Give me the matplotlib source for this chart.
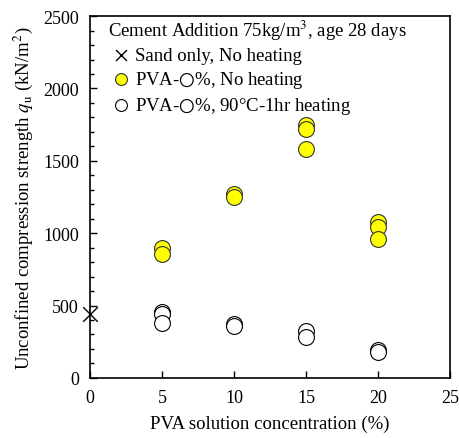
import matplotlib.pyplot as plt
import matplotlib as mpl

mpl.rcParams['font.family'] = ['Liberation Serif', 'DejaVu Sans']
mpl.rcParams['mathtext.fontset'] = 'stix'
mpl.rcParams['font.size'] = 13.5

# sand only
sand_x = [0]
sand_y = [440]

# PVA, no heating
noheat_x = [5, 5, 10, 10, 15, 15, 15, 20, 20, 20]
noheat_y = [900, 855, 1270, 1250, 1750, 1720, 1580, 1075, 1040, 960]

# PVA, 90C-1hr heating
heat_x = [5, 5, 5, 10, 10, 15, 15, 20, 20]
heat_y = [455, 440, 380, 370, 355, 325, 280, 195, 180]

fig = plt.figure(figsize=(4.59, 4.39), dpi=100)
ax = fig.add_axes([0.196, 0.137, 0.785, 0.824])

ax.scatter(sand_x, sand_y, marker='x', s=110, color='black', linewidths=1.0,
           label='Sand only, No heating', zorder=3, clip_on=False)
ax.scatter(noheat_x, noheat_y, marker='o', s=130, facecolor='#FFFF00',
           edgecolor='#333333', linewidths=0.8,
           label='PVA-$\\bigcirc$%, No heating', zorder=3)
ax.scatter(heat_x, heat_y, marker='o', s=130, facecolor='white',
           edgecolor='black', linewidths=0.8,
           label='PVA-$\\bigcirc$%, 90\u00b0C-1hr heating', zorder=3)

ax.set_xlim(0, 25)
ax.set_ylim(0, 2500)
ax.set_xticks([0, 5, 10, 15, 20, 25])
ax.set_yticks([0, 500, 1000, 1500, 2000, 2500])
ax.set_yticks(range(0, 2501, 100), minor=True)
ax.tick_params(axis='both', direction='in', length=5, width=1.0, pad=8, labelsize=13)
ax.tick_params(axis='y', which='minor', direction='in', length=3, width=1.0)
ax.tick_params(axis='x', which='minor', length=0)
for s in ax.spines.values():
    s.set_linewidth(1.2)

ax.set_xlabel('PVA solution concentration (%)', labelpad=6)
ax.set_ylabel('Unconfined compression strength $q_\\mathrm{u}$ (kN/m$^2$)', labelpad=6)

leg = ax.legend(loc='upper left', bbox_to_anchor=(0.03, 1.015), frameon=False,
                title='Cement Addition 75kg/m$^3$, age 28 days',
                title_fontsize=13.5, alignment='left', markerscale=0.75,
                handletextpad=0.0, handlelength=1.4, labelspacing=0.25,
                borderaxespad=0.2, borderpad=0.2)

fig.savefig('out.png', dpi=100)
